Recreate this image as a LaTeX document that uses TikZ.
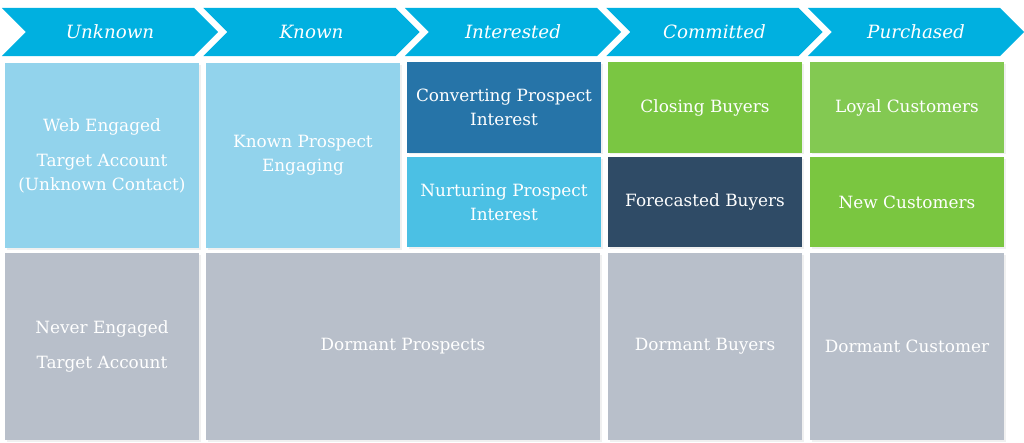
\documentclass[tikz,border=0pt]{standalone}
\usepackage{fontspec}
\setmainfont{DejaVu Serif}
\usetikzlibrary{shapes.symbols,shadows}
\definecolor{hdblue}{RGB}{0,176,224}
\definecolor{lightblue}{RGB}{146,211,236}
\definecolor{convblue}{RGB}{38,116,168}
\definecolor{nurtblue}{RGB}{75,192,228}
\definecolor{closegreen}{RGB}{122,198,66}
\definecolor{loyalgreen}{RGB}{131,201,82}
\definecolor{newgreen}{RGB}{122,198,64}
\definecolor{forecast}{RGB}{47,75,102}
\definecolor{dormant}{RGB}{184,191,202}

\begin{document}
\begin{tikzpicture}[x=0.025cm,y=-0.025cm,font=\fontsize{12}{17}\selectfont,
 head/.style={signal,signal to=east,signal from=west,signal pointer angle=90,fill=hdblue,text=white,
   minimum width=5.4cm,minimum height=1.2cm,inner sep=0pt,outer sep=0pt,font=\fontsize{13}{17}\selectfont\itshape},
 cell/.style={minimum width=4.85cm,inner sep=0pt,outer sep=0pt,align=center,text=white,
   drop shadow={shadow xshift=1.2pt,shadow yshift=-1.2pt,opacity=0.12}},
 tall/.style={cell,minimum height=4.625cm},
 half/.style={cell,minimum height=2.25cm},
 low/.style={cell,minimum height=4.675cm,fill=dormant}]
\useasboundingbox (0,0) rectangle (1024,442);
% stage headers
\node[head] (hunk) at (110,32) {Unknown};
\node[head] (hkno) at (311.5,32) {Known};
\node[head] (hint) at (513,32) {Interested};
\node[head] (hcom) at (714.5,32) {Committed};
\node[head] (hpur) at (916,32) {Purchased};
% top row
\node[tall,fill=lightblue] (web) at (102,155.5) {Web Engaged\\[8pt]Target Account\\(Unknown Contact)};
\node[tall,fill=lightblue] (kpe) at (303,155.5) {Known Prospect\\Engaging};
\node[half,fill=convblue] (conv) at (504,107.5) {Converting Prospect\\Interest};
\node[half,fill=nurtblue] (nurt) at (504,202) {Nurturing Prospect\\Interest};
\node[half,fill=closegreen] (close) at (705,107.5) {Closing Buyers};
\node[half,fill=forecast] (fore) at (705,202) {Forecasted Buyers};
\node[half,fill=loyalgreen] (loyal) at (907,107.5) {Loyal Customers};
\node[half,fill=newgreen] (new) at (907,202) {New Customers};
% dormant row
\node[low] (never) at (102,346.5) {Never Engaged\\[8pt]Target Account};
\node[low,minimum width=9.85cm] (dpro) at (403,346.5) {Dormant Prospects};
\node[low] (dbuy) at (705,346.5) {Dormant Buyers};
\node[low] (dcus) at (907,346.5) {Dormant Customer};
\end{tikzpicture}
\end{document}
